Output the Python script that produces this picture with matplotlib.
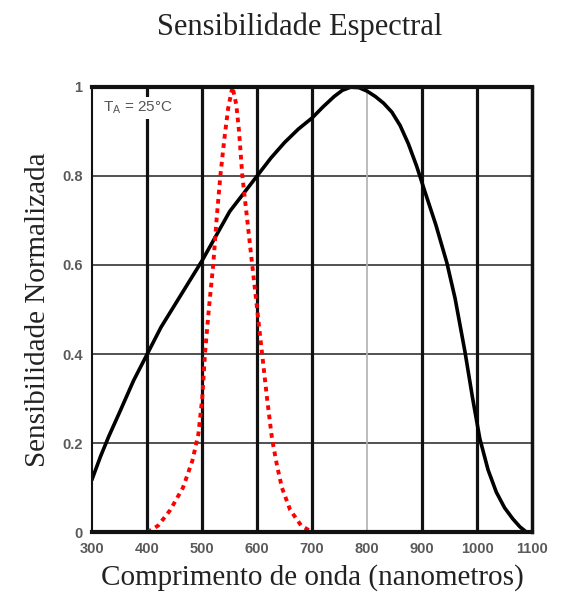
import matplotlib
matplotlib.use('Agg')
import matplotlib.pyplot as plt

# curva preta (sensor)
wl_sensor = [300, 315, 330, 350, 375, 400, 425, 450, 475, 500, 525, 550, 575, 600,
             625, 650, 675, 700, 720, 740, 755, 770, 785, 800, 815, 830, 845, 860,
             875, 890, 905, 925, 945, 960, 978, 992, 1005, 1020, 1035, 1050, 1065,
             1078, 1090]
sens_sensor = [0.12, 0.17, 0.215, 0.27, 0.34, 0.40, 0.46, 0.51, 0.56, 0.61, 0.665, 0.72, 0.76, 0.80,
               0.84, 0.875, 0.905, 0.93, 0.955, 0.978, 0.992, 0.999, 0.998, 0.99, 0.978, 0.963,
               0.943, 0.913, 0.872, 0.822, 0.765, 0.69, 0.605, 0.525, 0.405, 0.30, 0.21, 0.14, 0.09,
               0.055, 0.03, 0.012, 0.0]

# curva vermelha (olho humano)
wl_olho = [400, 420, 442, 465, 482, 493, 500, 505, 512, 520, 526, 533, 540, 547, 555,
           562, 567, 573, 582, 591, 600, 609, 618, 627, 636, 645, 660, 680, 700]
sens_olho = [0.0, 0.015, 0.05, 0.10, 0.16, 0.22, 0.30, 0.40, 0.50, 0.60, 0.70, 0.80, 0.88, 0.95, 1.0,
             0.96, 0.90, 0.80, 0.70, 0.60, 0.50, 0.40, 0.30, 0.21, 0.15, 0.10, 0.05, 0.015, 0.0]

xticks = [300, 400, 500, 600, 700, 800, 900, 1000, 1100]
yticks = [0, 0.2, 0.4, 0.6, 0.8, 1]
ytick_labels = ['0', '0.2', '0.4', '0.6', '0.8', '1']

fig = plt.figure(figsize=(5.66, 5.98), dpi=100)
ax = fig.add_axes([0.163, 0.110, 0.777, 0.745])
ax.set_xlim(300, 1100)
ax.set_ylim(0, 1)

# grade
for y in yticks[1:-1]:
    ax.axhline(y, color='#222222', lw=1.1, zorder=1)
for x in xticks[1:-1]:
    if x == 800:
        ax.axvline(x, color='#b0b0b0', lw=1.2, zorder=1)
    else:
        ax.axvline(x, color='#111111', lw=2.3, zorder=1)

ax.plot(wl_sensor, sens_sensor, color='black', lw=2.6, zorder=3, solid_joinstyle='round')
ax.plot(wl_olho, sens_olho, color='red', lw=2.8, linestyle=(0, (1.2, 1.2)), zorder=3)

ax.text(320, 0.953, 'T$_\\mathregular{A}$ = 25°C', fontsize=11, color='#555555',
        family='Liberation Sans', va='center', ha='left', zorder=4,
        bbox=dict(facecolor='white', edgecolor='none', pad=2))

ax.set_xticks(xticks)
ax.set_yticks(yticks)
ax.set_xticklabels([str(v) for v in xticks])
ax.set_yticklabels(ytick_labels)
ax.tick_params(length=0, pad=7, labelsize=10.5, labelcolor='#5a5a5a')
for lab in ax.get_xticklabels() + ax.get_yticklabels():
    lab.set_family('Liberation Sans')
    lab.set_fontweight('bold')

ax.spines['top'].set_linewidth(3)
ax.spines['bottom'].set_linewidth(3)
ax.spines['right'].set_linewidth(2.5)
ax.spines['left'].set_linewidth(1.5)
for s in ax.spines.values():
    s.set_color('#111111')
    s.set_zorder(5)

fig.text(0.53, 0.955, 'Sensibilidade Espectral', ha='center', va='center',
         fontsize=22, family='Liberation Serif', color='#222222')
ax.set_xlabel('Comprimento de onda (nanometros)', fontsize=21,
              family='Liberation Serif', color='#222222', labelpad=6)
ax.set_ylabel('Sensibilidade Normalizada', fontsize=21,
              family='Liberation Serif', color='#222222', labelpad=8)

fig.savefig('out.png', dpi=100)
